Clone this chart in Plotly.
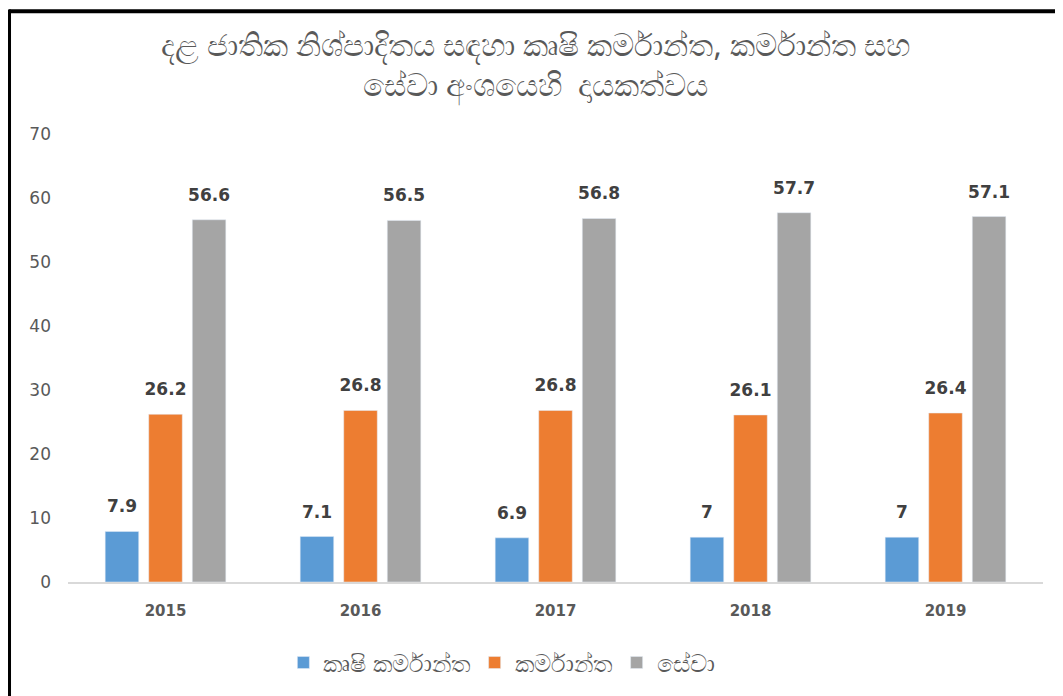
import plotly.graph_objects as go

years = ["2015", "2016", "2017", "2018", "2019"]
agri = [7.9, 7.1, 6.9, 7, 7]
industry = [26.2, 26.8, 26.8, 26.1, 26.4]
services = [56.6, 56.5, 56.8, 57.7, 57.1]
series_names = ["කෘෂි කර්මාන්ත", "කර්මාන්ත", "සේවා"]
colors = ["#5B9BD5", "#ED7D31", "#A5A5A5"]
title_text = "දළ ජාතික නිශ්පාදිතය සඳහා කෘෂි කර්මාන්ත, කර්මාන්ත සහ<br>සේවා අංශයෙහි  දායකත්වය"

font_fam = "Noto Sans, DejaVu Sans, sans-serif"
num_font = "DejaVu Sans"

fig = go.Figure()
for i, (name, vals, col) in enumerate(zip(series_names, [agri, industry, services], colors)):
    fig.add_trace(go.Bar(
        x=years, y=vals, name=name, marker_color=col,
        offsetgroup=str(i), alignmentgroup="a",
    ))
for i, vals in enumerate([agri, industry, services]):
    fig.add_trace(go.Scatter(
        x=years, y=vals, mode="markers+text", showlegend=False, hoverinfo="skip",
        marker=dict(size=22, color="rgba(0,0,0,0)"),
        text=[f"{v:g}" for v in vals], textposition="top center",
        textfont=dict(size=17, color="#404040", family=num_font, weight="bold"),
        offsetgroup=str(i), alignmentgroup="a", cliponaxis=False,
    ))

fig.update_layout(
    width=1055, height=688,
    paper_bgcolor="white", plot_bgcolor="white",
    margin=dict(l=60, r=20, t=126, b=113),
    barmode="group", bargap=0.33, bargroupgap=0.23,
    scattermode="group", scattergap=0.33,
    title=dict(text=title_text, x=0.5, xanchor="center", y=0.93, yanchor="middle",
               font=dict(size=31, color="#595959", family=font_fam)),
    legend=dict(orientation="h", x=0.445, xanchor="center", y=-0.178, yanchor="middle",
                font=dict(size=24, color="#595959", family=font_fam),
                itemwidth=30, traceorder="normal"),
)
fig.update_xaxes(showgrid=False, showline=True, linecolor="#D9D9D9", linewidth=2,
                 tickfont=dict(size=15, color="#595959", family=num_font, weight="bold"),
                 ticks="", ticklabelstandoff=14)
fig.update_yaxes(range=[0, 70], dtick=10, showgrid=False, zeroline=False, showline=False,
                 tickfont=dict(size=17, color="#595959", family=num_font),
                 ticks="", ticklabelstandoff=16)

# frame lines at top and left as in the reference image
fig.add_shape(type="line", xref="paper", yref="paper", x0=-0.0605, x1=1.03, y0=1.274, y1=1.274,
              line=dict(color="black", width=4))
fig.add_shape(type="line", xref="paper", yref="paper", x0=-0.0605, x1=-0.0605, y0=1.278, y1=-0.26,
              line=dict(color="black", width=4))

fig.write_html("out.html")
